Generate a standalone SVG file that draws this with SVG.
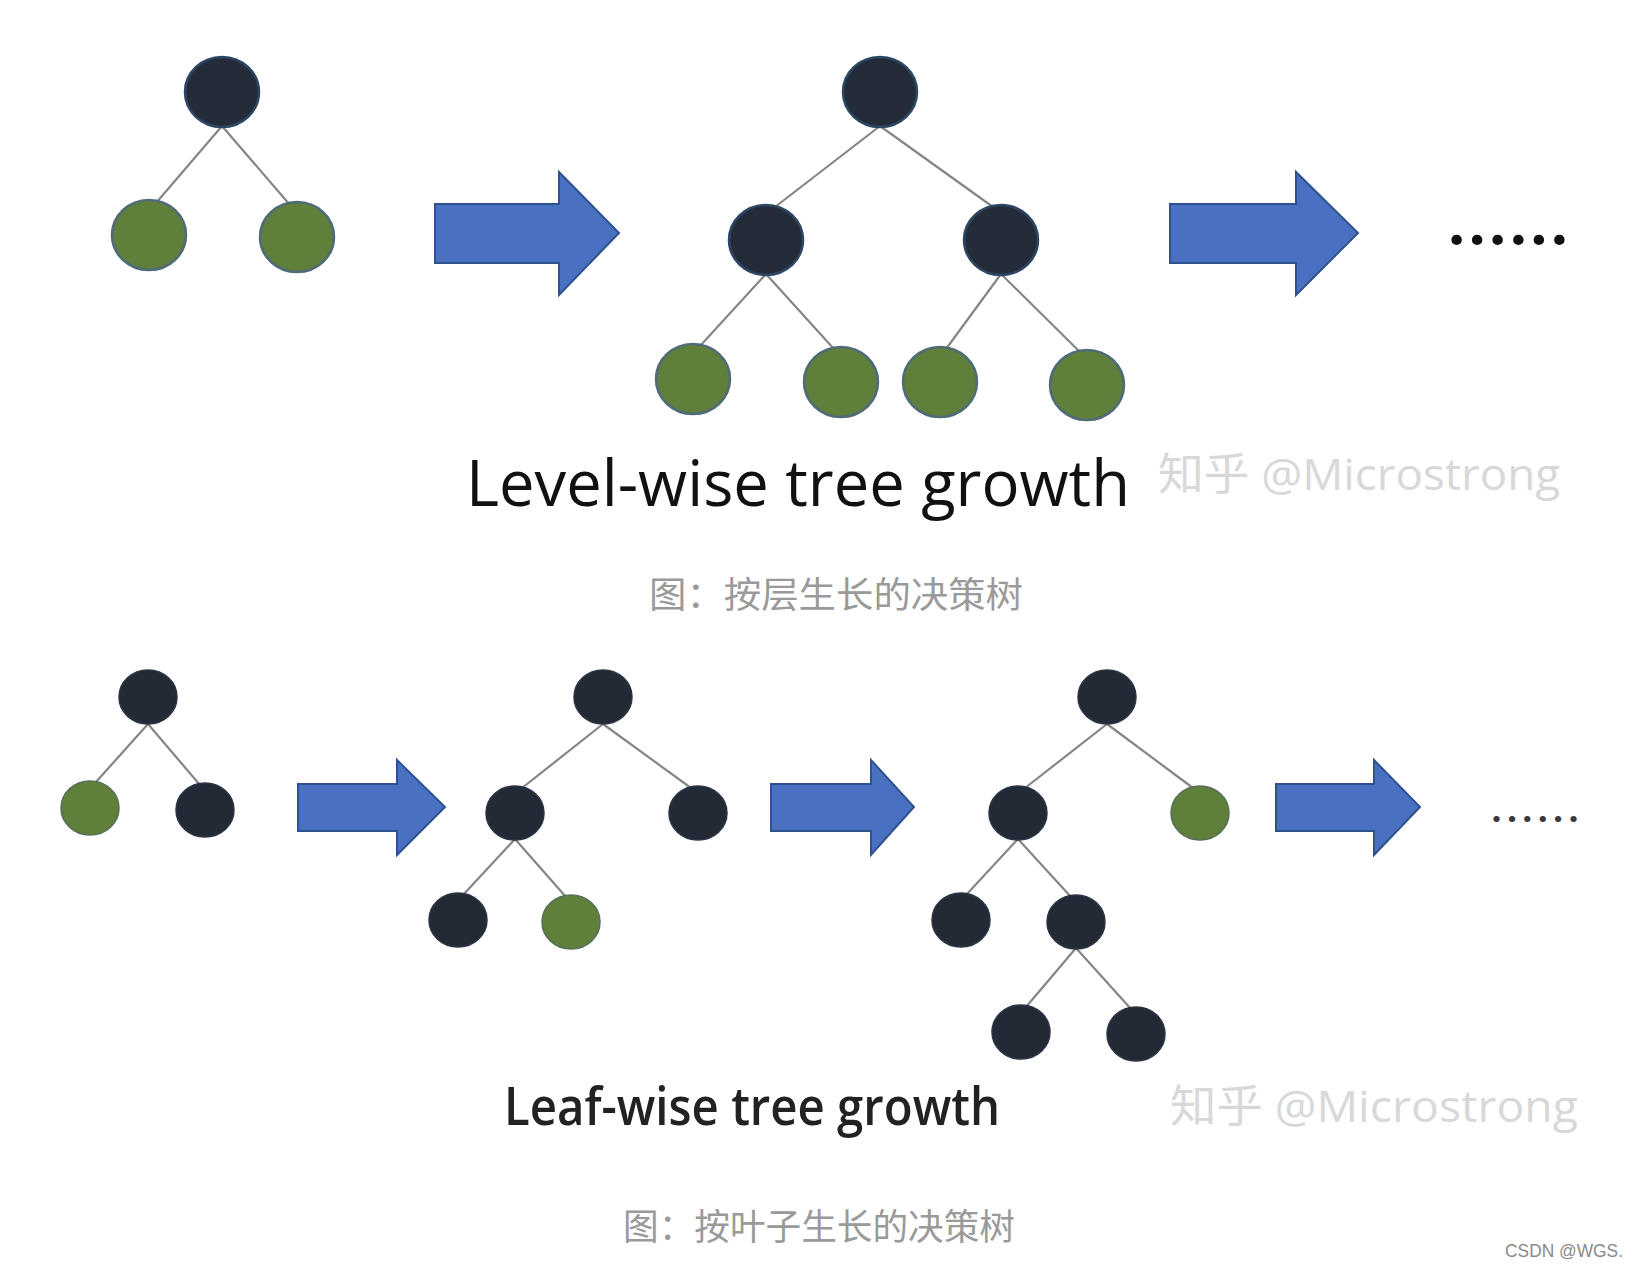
<svg xmlns="http://www.w3.org/2000/svg" width="1638" height="1268" viewBox="0 0 1638 1268">
<style>
.dk{fill:#252c39;stroke:#2c4663;stroke-width:2.5}
.gr{fill:#5f7f3b;stroke:#4f6b78;stroke-width:2.5}
.dk2{fill:#232a36;stroke:#2a3444;stroke-width:1.5}
.gr2{fill:#5f7f3b;stroke:#55705a;stroke-width:1.5}
.ln{stroke:#858585;stroke-width:2.2;fill:none}
.arr{fill:#4a71c1;stroke:#2f528f;stroke-width:2}
.title{font-family:"Open Sans","Liberation Sans",sans-serif;fill:#111}
.wm{font-family:"Open Sans","Liberation Sans","Noto Sans CJK SC",sans-serif;fill:#d8d8d8}
.cap{font-family:"Noto Sans CJK SC","Noto Sans",sans-serif;fill:#9a9a9a}
.dots{font-family:Lato,"Open Sans",sans-serif;font-weight:900;fill:#111}
</style>
<rect width="1638" height="1268" fill="#ffffff"/>

<g id="connectors">
<line class="ln" x1="222" y1="126" x2="156" y2="203"/>
<line class="ln" x1="222" y1="126" x2="290" y2="205"/>
<line class="ln" x1="880" y1="126" x2="775" y2="207"/>
<line class="ln" x1="880" y1="126" x2="993" y2="207"/>
<line class="ln" x1="766" y1="274" x2="700" y2="346"/>
<line class="ln" x1="766" y1="274" x2="834" y2="349"/>
<line class="ln" x1="1001" y1="274" x2="946" y2="349"/>
<line class="ln" x1="1001" y1="274" x2="1080" y2="352"/>
<line class="ln" x1="148" y1="724" x2="96" y2="782"/>
<line class="ln" x1="148" y1="724" x2="200" y2="785"/>
<line class="ln" x1="603" y1="724" x2="522" y2="788"/>
<line class="ln" x1="603" y1="724" x2="691" y2="788"/>
<line class="ln" x1="515" y1="839" x2="463" y2="895"/>
<line class="ln" x1="515" y1="839" x2="566" y2="897"/>
<line class="ln" x1="1107" y1="724" x2="1025" y2="788"/>
<line class="ln" x1="1107" y1="724" x2="1193" y2="788"/>
<line class="ln" x1="1018" y1="839" x2="966" y2="895"/>
<line class="ln" x1="1018" y1="839" x2="1071" y2="897"/>
<line class="ln" x1="1076" y1="948" x2="1026" y2="1007"/>
<line class="ln" x1="1076" y1="948" x2="1131" y2="1009"/>
</g>

<g id="arrows">
<polygon id="arrow-l1" class="arr" points="435,204 559,204 559,172 619,233 559,295 559,263 435,263"/>
<polygon id="arrow-l2" class="arr" points="1170,204 1296,204 1296,172 1358,233 1296,295 1296,263 1170,263"/>
<polygon id="arrow-f1" class="arr" points="298,784 397,784 397,760 445,807 397,855 397,831 298,831"/>
<polygon id="arrow-f2" class="arr" points="771,784 871,784 871,760 914,807 871,855 871,831 771,831"/>
<polygon id="arrow-f3" class="arr" points="1276,784 1374,784 1374,760 1420,807 1374,855 1374,831 1276,831"/>
</g>

<g id="L1-root"><ellipse class="dk" cx="222" cy="92" rx="37" ry="35"/></g>
<g id="L1-left"><ellipse class="gr" cx="149" cy="235" rx="37" ry="35"/></g>
<g id="L1-right"><ellipse class="gr" cx="297" cy="237" rx="37" ry="35"/></g>

<g id="L2-root"><ellipse class="dk" cx="880" cy="92" rx="37" ry="35"/></g>
<g id="L2-a"><ellipse class="dk" cx="766" cy="240" rx="37" ry="35"/></g>
<g id="L2-b"><ellipse class="dk" cx="1001" cy="240" rx="37" ry="35"/></g>
<g id="L2-a1"><ellipse class="gr" cx="693" cy="379" rx="37" ry="35"/></g>
<g id="L2-a2"><ellipse class="gr" cx="841" cy="382" rx="37" ry="35"/></g>
<g id="L2-b1"><ellipse class="gr" cx="940" cy="382" rx="37" ry="35"/></g>
<g id="L2-b2"><ellipse class="gr" cx="1087" cy="385" rx="37" ry="35"/></g>

<text id="dots-top" class="dots" x="1449" y="245" font-size="64" textLength="118" lengthAdjust="spacing">......</text>

<text id="title-level" class="title" x="466" y="506" font-size="64" textLength="664" lengthAdjust="spacingAndGlyphs">Level-wise tree growth</text>
<text id="wm-1" class="wm" x="1158" y="490" font-size="44" textLength="402" lengthAdjust="spacingAndGlyphs">知乎 @Microstrong</text>
<text id="cap-1" class="cap" x="649" y="608" font-size="36" textLength="374" lengthAdjust="spacingAndGlyphs">图：按层生长的决策树</text>

<g id="F1-root"><ellipse class="dk2" cx="148" cy="697" rx="29" ry="27"/></g>
<g id="F1-left"><ellipse class="gr2" cx="90" cy="808" rx="29" ry="27"/></g>
<g id="F1-right"><ellipse class="dk2" cx="205" cy="810" rx="29" ry="27"/></g>

<g id="F2-root"><ellipse class="dk2" cx="603" cy="697" rx="29" ry="27"/></g>
<g id="F2-a"><ellipse class="dk2" cx="515" cy="813" rx="29" ry="27"/></g>
<g id="F2-b"><ellipse class="dk2" cx="698" cy="813" rx="29" ry="27"/></g>
<g id="F2-a1"><ellipse class="dk2" cx="458" cy="920" rx="29" ry="27"/></g>
<g id="F2-a2"><ellipse class="gr2" cx="571" cy="922" rx="29" ry="27"/></g>

<g id="F3-root"><ellipse class="dk2" cx="1107" cy="697" rx="29" ry="27"/></g>
<g id="F3-a"><ellipse class="dk2" cx="1018" cy="813" rx="29" ry="27"/></g>
<g id="F3-b"><ellipse class="gr2" cx="1200" cy="813" rx="29" ry="27"/></g>
<g id="F3-a1"><ellipse class="dk2" cx="961" cy="920" rx="29" ry="27"/></g>
<g id="F3-a2"><ellipse class="dk2" cx="1076" cy="922" rx="29" ry="27"/></g>
<g id="F3-a21"><ellipse class="dk2" cx="1021" cy="1032" rx="29" ry="27"/></g>
<g id="F3-a22"><ellipse class="dk2" cx="1136" cy="1034" rx="29" ry="27"/></g>

<text id="dots-bottom" class="dots" x="1492" y="822" font-size="38" style="fill:#3a3a3a" textLength="86" lengthAdjust="spacing">......</text>

<text id="title-leaf" class="title" x="504" y="1125" font-size="52" font-weight="600" style="fill:#222" textLength="496" lengthAdjust="spacingAndGlyphs">Leaf-wise tree growth</text>
<text id="wm-2" class="wm" x="1170" y="1122" font-size="44" textLength="408" lengthAdjust="spacingAndGlyphs">知乎 @Microstrong</text>
<text id="cap-2" class="cap" x="623" y="1240" font-size="36" textLength="392" lengthAdjust="spacingAndGlyphs">图：按叶子生长的决策树</text>

<text id="csdn" x="1505" y="1257" font-family="Liberation Sans, sans-serif" font-size="19" fill="#8a8a8a" textLength="118" lengthAdjust="spacingAndGlyphs">CSDN @WGS.</text>
</svg>
